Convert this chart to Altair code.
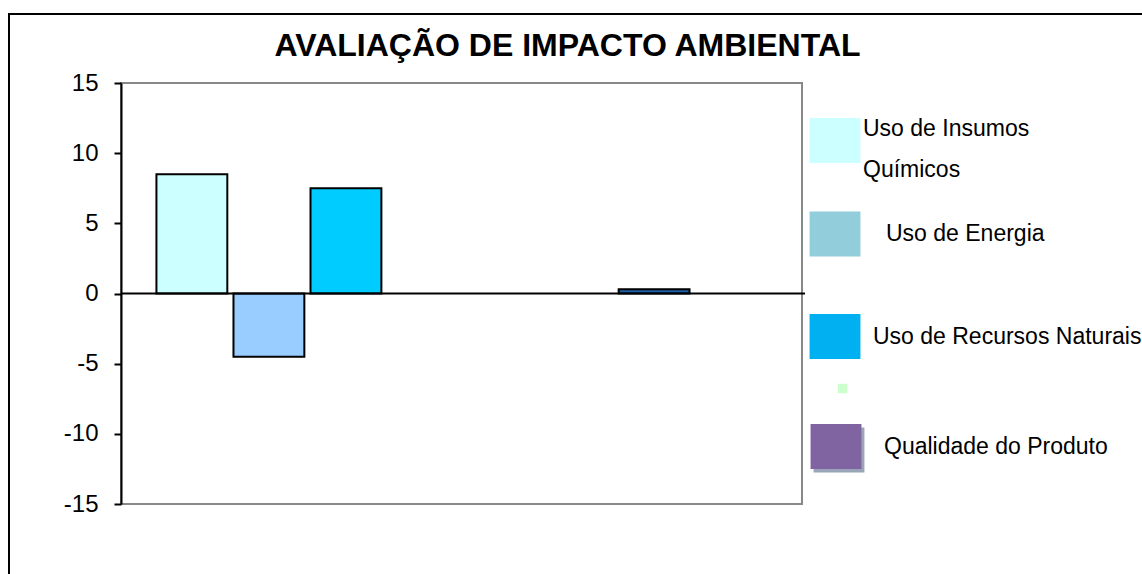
import altair as alt
import pandas as pd

# ---- data ----
series_order = ["S1", "S2", "S3", "S4", "S5", "S6", "S7", "S8"]
values = [8.5, -4.5, 7.5, 0, 0, 0, 0.3, 0]
bar_colors = ["#CCFFFF", "#99CCFF", "#00CCFF", "#FFFFFF", "#FFFFFF", "#FFFFFF", "#1F5FAA", "#FFFFFF"]

legend_labels = [" ", "Uso de Insumos", "Químicos", "Uso de Energia",
                 "Uso de Recursos Naturais", " ", " ", "Qualidade do Produto"]
legend_colors = ["#CCFFFF", "#FFFFFF", "#FFFFFF", "#92CDDC", "#00B0F0", "#CCFFCC", "#9AA5BA", "#8064A2"]

title_text = "AVALIAÇÃO DE IMPACTO AMBIENTAL"
y_ticks = [-15, -10, -5, 0, 5, 10, 15]

# ---- layout (pixels) ----
W, H = 681, 421
FONT = "Liberation Sans"
RECT_PATH = "M-1.06,-0.94H1.06V0.94H-1.06Z"
# per legend entry: (legendX, legendY, symbol size, symbol opacity, label offset, symbol type)
legend_layout = [
    (690, 33.5, 2304, 1, 4, RECT_PATH),
    (690, 22, 2304, 0, 4, RECT_PATH),
    (690, 62.5, 2304, 0, 4, RECT_PATH),
    (690, 127, 2304, 1, 27, RECT_PATH),
    (690, 229.5, 2304, 1, 14, RECT_PATH),
    (710, 294, 90, 1, 0, "square"),
    (694, 343, 2304, 1, 0, RECT_PATH),
    (691, 339.5, 2304, 1, 24, RECT_PATH),
]

bars_df = pd.DataFrame({"serie": series_order,
                        "valor": [v if v != 0 else None for v in values],
                        "cor": bar_colors})

y_scale = alt.Scale(domain=[-15, 15], nice=False, zero=False)
y_axis = alt.Axis(values=y_ticks, title=None, grid=False, domainColor="black",
                  domainWidth=2, tickColor="black", tickWidth=2, tickSize=7,
                  labelFont=FONT, labelFontSize=24, labelColor="black",
                  labelPadding=16, labelExpr="'' + datum.value")

bars = alt.Chart(bars_df).mark_bar(stroke="black", strokeWidth=2).encode(
    x=alt.X("serie:N", sort=series_order, axis=None,
            scale=alt.Scale(paddingInner=0.08, paddingOuter=0.46)),
    y=alt.Y("valor:Q", scale=y_scale, axis=y_axis),
    fill=alt.Fill("cor:N", scale=None, legend=None),
)

zero_rule = alt.Chart(pd.DataFrame({"z": [0]})).mark_rule(color="black", strokeWidth=2).encode(
    y=alt.Y("z:Q", scale=y_scale, axis=y_axis),
    x=alt.value(0),
    x2=alt.value(W + 3),
)

legend_layers = []
for i, (label, col) in enumerate(zip(legend_labels, legend_colors)):
    lx, ly, size, sop, loff, stype = legend_layout[i]
    name = label if label.strip() else " " * (i + 1)
    lg = alt.Legend(
        title=None, orient="none", legendX=lx, legendY=ly,
        symbolType=stype, symbolSize=size, symbolStrokeWidth=0, symbolOpacity=sop,
        labelFont=FONT, labelFontSize=23, labelColor="black", labelOffset=loff,
        labelLimit=400, labelExpr="trim(datum.label)",
    )
    layer = alt.Chart(pd.DataFrame({"nome": [name]})).mark_square(opacity=0).encode(
        color=alt.Color("nome:N", scale=alt.Scale(domain=[name], range=[col]), legend=lg),
        x=alt.value(0), y=alt.value(0),
    )
    legend_layers.append(layer)

frame = alt.Chart(pd.DataFrame({"a": [0]})).mark_rect(
    fill=None, stroke="black", strokeWidth=2
).encode(
    x=alt.value(-112), y=alt.value(-69), x2=alt.value(1200), y2=alt.value(700)
)

chart = alt.layer(frame, bars, zero_rule, *legend_layers).resolve_scale(
    color="independent"
).properties(
    width=W, height=H,
    title=alt.Title(title_text, font=FONT, fontSize=32, fontWeight="bold", color="black",
                    anchor="middle", dx=106, offset=-50),
    autosize=alt.AutoSizeParams(type="none"),
    padding={"left": 121, "top": 83, "right": 340, "bottom": 70},
    background="white",
).configure_view(
    stroke="#888888", strokeWidth=2
)

chart.save("out.html", embed_options={"renderer": "svg", "actions": False})
